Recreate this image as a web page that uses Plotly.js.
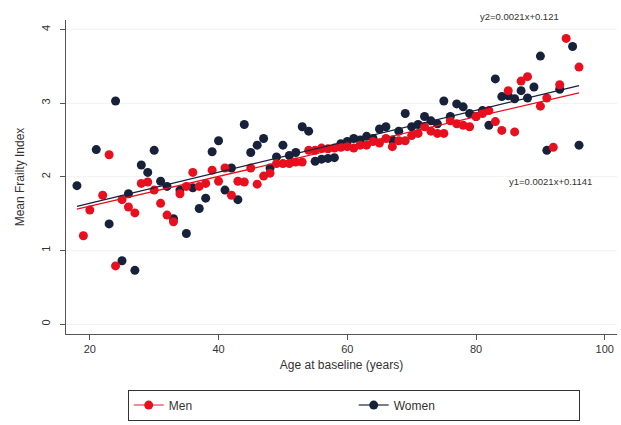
<!DOCTYPE html>
<html><head><meta charset="utf-8">
<script src="https://cdn.plot.ly/plotly-3.0.1.min.js"></script>
<style>html,body{margin:0;padding:0;background:#fff}#chart{width:621px;height:425px}</style>
</head><body><div id="chart"></div>
<script>
const womenAge = [18,21,23,24,25,26,27,28,29,30,31,32,33,34,35,36,37,38,39,40,41,42,43,44,45,46,47,48,49,50,51,52,53,54,55,56,57,58,59,60,61,62,63,64,65,66,67,68,69,70,71,72,73,74,75,76,77,78,79,80,81,82,83,84,85,86,87,88,89,90,91,93,95,96];
const womenFI  = [1.88,2.37,1.36,3.03,0.86,1.77,0.73,2.16,2.06,2.36,1.94,1.87,1.43,1.82,1.23,1.85,1.57,1.71,2.34,2.49,1.82,2.12,1.69,2.71,2.33,2.43,2.52,2.12,2.27,2.43,2.29,2.33,2.68,2.62,2.21,2.24,2.25,2.26,2.45,2.48,2.52,2.50,2.55,2.52,2.65,2.68,2.50,2.62,2.86,2.68,2.71,2.82,2.76,2.72,3.03,2.82,2.99,2.95,2.86,2.82,2.90,2.70,3.33,3.09,3.10,3.06,3.17,3.07,3.22,3.64,2.36,3.19,3.77,2.43];
const menAge = [19,20,22,23,24,25,26,27,28,29,30,31,32,33,34,35,36,37,38,39,40,41,42,43,44,45,46,47,48,49,50,51,52,53,54,55,56,57,58,59,60,61,62,63,64,65,66,67,68,69,70,71,72,73,74,75,76,77,78,79,80,81,82,83,84,85,86,87,88,90,91,92,93,94,96];
const menFI  = [1.20,1.55,1.75,2.30,0.79,1.69,1.59,1.51,1.91,1.93,1.82,1.64,1.48,1.39,1.77,1.87,2.06,1.87,1.91,2.09,1.94,2.12,1.75,1.94,1.93,2.12,1.90,2.01,2.05,2.18,2.18,2.18,2.20,2.20,2.36,2.36,2.39,2.38,2.39,2.40,2.41,2.39,2.43,2.43,2.48,2.46,2.52,2.41,2.49,2.49,2.56,2.59,2.68,2.62,2.59,2.59,2.76,2.72,2.70,2.68,2.82,2.86,2.90,2.75,2.63,3.17,2.61,3.30,3.36,2.96,3.07,2.40,3.25,3.88,3.49];
const fitAge = [18,96];
const womenFit = [1.60,3.24];
const menFit = [1.56,3.14];
const eqWomen = "y2=0.0021x+0.121";
const eqMen = "y1=0.0021x+0.1141";

const RED = '#e8101e', NAVY = '#17213a';
const data = [
  {x: womenAge, y: womenFI, type:'scatter', mode:'markers', marker:{color:NAVY, size:9}, showlegend:false, hoverinfo:'skip'},
  {x: menAge, y: menFI, type:'scatter', mode:'markers', marker:{color:RED, size:9}, showlegend:false, hoverinfo:'skip'},
  {x: fitAge, y: womenFit, type:'scatter', mode:'lines', line:{color:NAVY, width:1.3}, showlegend:false},
  {x: fitAge, y: menFit, type:'scatter', mode:'lines', line:{color:RED, width:1.3}, showlegend:false},
  {x:[null], y:[null], type:'scatter', mode:'lines+markers', name:'Men', marker:{color:RED,size:9}, line:{color:'#f0607a',width:1.5}},
  {x:[null], y:[null], type:'scatter', mode:'lines+markers', name:'Women', marker:{color:NAVY,size:9}, line:{color:'#4a5068',width:1.5}}
];
const layout = {
  width:621, height:425,
  margin:{l:66, r:4, t:20, b:88},
  paper_bgcolor:'#fff', plot_bgcolor:'#fff',
  font:{family:'Arial, "Liberation Sans", sans-serif', color:'#333', size:11},
  xaxis:{range:[16.3,101.9], tickvals:[20,40,60,80,100], ticks:'outside', ticklen:5, tickcolor:'#555',
    showline:true, linecolor:'#555', linewidth:1, showgrid:false, zeroline:false, automargin:false,
    tickfont:{size:11,color:'#333'}, title:{text:'Age at baseline (years)', font:{size:12,color:'#333'}, standoff:6}},
  yaxis:{range:[-0.135,4.13], tickvals:[0,1,2,3,4], ticks:'outside', ticklen:5, tickcolor:'#555', tickangle:-90,
    ticklabelstandoff:6, automargin:false,
    showline:true, linecolor:'#555', linewidth:1, showgrid:true, gridcolor:'#f3f3f3', zeroline:false,
    tickfont:{size:11,color:'#333'}, title:{text:'Mean Frailty Index', font:{size:12,color:'#333'}, standoff:12}},
  legend:{orientation:'h', x:0.112, xanchor:'left', y:-0.177, yanchor:'top', bordercolor:'#333', borderwidth:1,
    entrywidth:180, font:{size:12,color:'#333'}, bgcolor:'#fff'},
  annotations:[
    {xref:'paper', yref:'paper', x:0.823, y:1.01, text:eqWomen, showarrow:false, font:{size:9.5,color:'#333'}, xanchor:'center', yanchor:'middle'},
    {xref:'paper', yref:'paper', x:0.88, y:0.485, text:eqMen, showarrow:false, font:{size:9.5,color:'#333'}, xanchor:'center', yanchor:'middle'}
  ]
};
Plotly.newPlot('chart', data, layout, {staticPlot:true, displayModeBar:false});
</script></body></html>
